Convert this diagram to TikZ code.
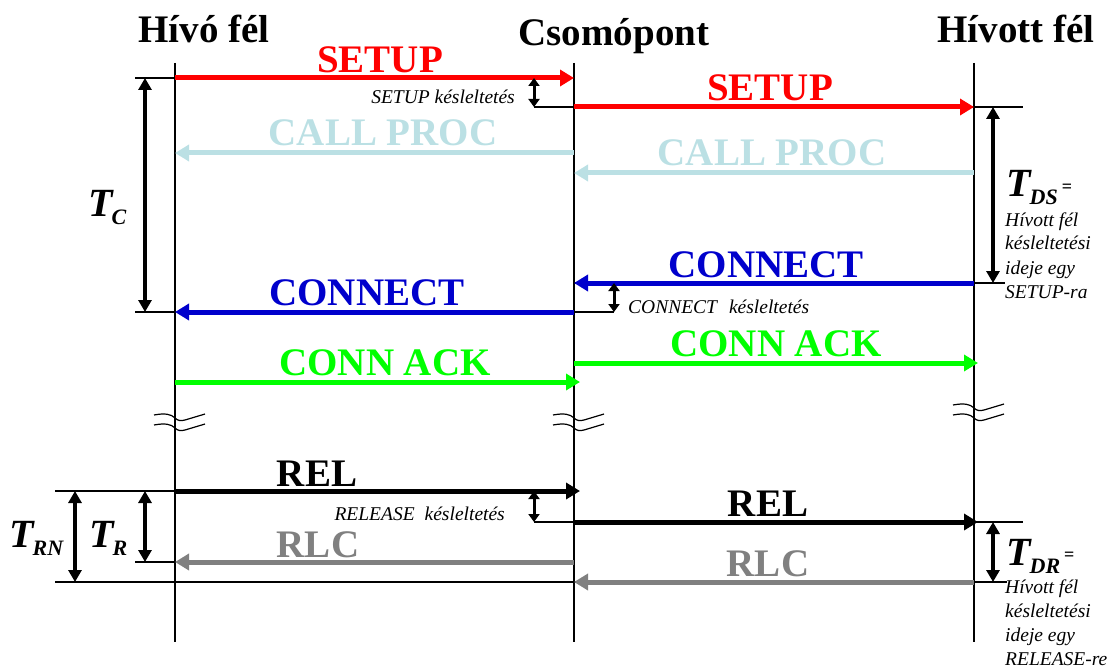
\documentclass[tikz,border=0pt]{standalone}
\usepackage{fontspec}
\setmainfont{Liberation Serif}
\usetikzlibrary{arrows.meta}

\definecolor{msgred}{RGB}{255,0,0}
\definecolor{msgcyan}{RGB}{187,224,228}
\definecolor{msgblue}{RGB}{0,0,204}
\definecolor{msggreen}{RGB}{0,255,0}
\definecolor{msggrey}{RGB}{128,128,128}

% time interval label: bold italic T with a lowered subscript
\newcommand\Tsub[1]{{\fontsize{40}{40}\selectfont\bfseries\itshape T}\kern-1pt\raisebox{-8pt}{\fontsize{22}{22}\selectfont\bfseries\itshape #1}}

\tikzset{
  head/.style={font=\fontsize{39}{39}\selectfont\bfseries, inner sep=0pt, anchor=base},
  msglabel/.style={font=\fontsize{39}{39}\selectfont\bfseries, inner sep=0pt, anchor=base},
  msg/.style={line width=5pt, -{Triangle[length=14pt,width=16pt]}},
  lifeline/.style={line width=1.3pt},
  tick/.style={line width=1.3pt},
  span/.style={line width=3.5pt, {Triangle[length=12pt,width=13pt]}-{Triangle[length=12pt,width=13pt]}},
  delay/.style={line width=3pt, {Triangle[length=8pt,width=11pt]}-{Triangle[length=8pt,width=11pt]}},
  note/.style={font=\fontsize{19.5}{19.5}\selectfont\itshape, inner sep=0pt},
  sidenote/.style={font=\fontsize{19.5}{19.5}\selectfont\itshape, inner sep=0pt, anchor=base west},
  tlabel/.style={inner sep=0pt, anchor=base west},
  brk/.style={line width=1.2pt},
  brkmark/.pic={
    \draw[brk] (-21,0) .. controls (-10,-2) and (-4,-1) .. (0,3) .. controls (3,6) and (6,6) .. (10,5) -- (30,-1);
    \draw[brk] (-21,10) .. controls (-10,8) and (-4,9) .. (0,13) .. controls (3,16) and (6,16) .. (10,15) -- (30,9);
  },
}

\begin{document}
\begin{tikzpicture}[x=1pt,y=-1pt]
\useasboundingbox (0,0) rectangle (1115,668);

% ---- parties ----
\node[head] (hA) at (204,43) {Hívó fél};
\node[head] (hB) at (614,46) {Csomópont};
\node[head] (hC) at (1016,43) {Hívott fél};

\coordinate (A0) at (175,63);  \coordinate (A1) at (175,642);
\coordinate (B0) at (574,63);  \coordinate (B1) at (574,642);
\coordinate (C0) at (974,63);  \coordinate (C1) at (974,642);
\draw[lifeline] (A0) -- (A1);
\draw[lifeline] (B0) -- (B1);
\draw[lifeline] (C0) -- (C1);

% ---- breaks in the time axis ----
\pic at (175,415) {brkmark};
\pic at (574,415) {brkmark};
\pic at (974,405) {brkmark};

% ---- message end points ----
\coordinate (suA) at (175,78);  \coordinate (suB) at (574,78);
\coordinate (sdB) at (574,107); \coordinate (sdC) at (974,107);
\coordinate (pB) at (574,153);  \coordinate (pA) at (175,153);
\coordinate (pC) at (974,173);  \coordinate (pB2) at (574,173);
\coordinate (cC) at (974,283);  \coordinate (cB) at (574,283);
\coordinate (cB2) at (574,312); \coordinate (cA) at (175,312);
\coordinate (kA) at (175,382);  \coordinate (kB) at (580,382);
\coordinate (kB2) at (574,363); \coordinate (kC) at (978,363);
\coordinate (rA) at (175,491);  \coordinate (rB) at (580,491);
\coordinate (rB2) at (574,522); \coordinate (rC) at (978,522);
\coordinate (lB) at (574,562);  \coordinate (lA) at (175,562);
\coordinate (lC) at (974,582);  \coordinate (lB2) at (574,582);

% ---- reference ticks ----
\coordinate (tc1) at (135,78);  \coordinate (tc2) at (135,312);
\coordinate (tds1) at (1023,107); \coordinate (tds2) at (1005,283);
\coordinate (tdr1) at (1023,522); \coordinate (tdr2) at (1007,582);
\coordinate (trn1) at (55,491); \coordinate (trn2) at (55,582);
\coordinate (tr2) at (135,562);
\coordinate (d1) at (534,107); \coordinate (d2) at (614,312); \coordinate (d3) at (534,522);

\draw[tick] (tc1) -- (suA);
\draw[tick] (tc2) -- (cA);
\draw[tick] (sdB) -- (tds1);
\draw[tick] (cB) -- (tds2);
\draw[tick] (rB2) -- (tdr1);
\draw[tick] (lB2) -- (tdr2);
\draw[tick] (trn1) -- (rA);
\draw[tick] (trn2) -- (lB2);
\draw[tick] (tr2) -- (lA);
\draw[tick] (d1) -- (sdB);
\draw[tick] (cB2) -- (d2);
\draw[tick] (d3) -- (rB2);

% ---- messages ----
\draw[msg, msgred] (suA) -- (suB);
\draw[msg, msgred] (sdB) -- (sdC);
\draw[msg, msgcyan] (pB) -- (pA);
\draw[msg, msgcyan] (pC) -- (pB2);
\draw[msg, msgblue] (cC) -- (cB);
\draw[msg, msgblue] (cB2) -- (cA);
\draw[msg, msggreen] (kA) -- (kB);
\draw[msg, msggreen] (kB2) -- (kC);
\draw[msg, black] (rA) -- (rB);
\draw[msg, black] (rB2) -- (rC);
\draw[msg, msggrey] (lB) -- (lA);
\draw[msg, msggrey] (lC) -- (lB2);

\node[msglabel, msgred] (m1) at (380,73) {SETUP};
\node[msglabel, msgred] (m2) at (770,101) {SETUP};
\node[msglabel, msgcyan] (m3) at (383,146) {CALL PROC};
\node[msglabel, msgcyan] (m4) at (772,166) {CALL PROC};
\node[msglabel, msgblue] (m5) at (766,277) {CONNECT};
\node[msglabel, msgblue] (m6) at (367,305) {CONNECT};
\node[msglabel, msggreen] (m7) at (385,375) {CONN ACK};
\node[msglabel, msggreen] (m8) at (776,356) {CONN ACK};
\node[msglabel, black] (m9) at (317,486) {REL};
\node[msglabel, black] (m10) at (768,516) {REL};
\node[msglabel, msggrey] (m11) at (318,557) {RLC};
\node[msglabel, msggrey] (m12) at (768,576) {RLC};

% ---- node delays ----
\coordinate (dl1a) at (534,78);  \coordinate (dl1b) at (534,107);
\coordinate (dl2a) at (614,283); \coordinate (dl2b) at (614,312);
\coordinate (dl3a) at (534,491); \coordinate (dl3b) at (534,522);
\draw[delay] (dl1a) -- (dl1b);
\draw[delay] (dl2a) -- (dl2b);
\draw[delay] (dl3a) -- (dl3b);
\node[note, anchor=base east] (n1) at (515,104) {SETUP késleltetés};
\node[note, anchor=base west] (n2) at (628,313) {CONNECT\hspace{12pt}késleltetés};
\node[note, anchor=base east] (n3) at (505,520) {RELEASE\hspace{10pt}késleltetés};

% ---- measured intervals ----
\coordinate (sC1) at (145,78);  \coordinate (sC2) at (145,312);
\coordinate (sDS1) at (993,107); \coordinate (sDS2) at (993,283);
\coordinate (sDR1) at (993,522); \coordinate (sDR2) at (993,582);
\coordinate (sRN1) at (75,491); \coordinate (sRN2) at (75,582);
\coordinate (sR1) at (145,491); \coordinate (sR2) at (145,562);
\draw[span] (sC1) -- (sC2);
\draw[span] (sDS1) -- (sDS2);
\draw[span] (sDR1) -- (sDR2);
\draw[span] (sRN1) -- (sRN2);
\draw[span] (sR1) -- (sR2);

\node[tlabel] (tC) at (88,217) {\Tsub{C}};
\node[tlabel] (tRN) at (9,547) {\Tsub{RN}};
\node[tlabel] (tR) at (89,547) {\Tsub{R}};
\node[tlabel] (tDS) at (1006,197) {\Tsub{DS}\hspace{4pt}\raisebox{5pt}{\fontsize{18}{18}\selectfont\bfseries =}};
\node[tlabel] (tDR) at (1006,565) {\Tsub{DR}\hspace{4pt}\raisebox{5pt}{\fontsize{18}{18}\selectfont\bfseries =}};

\foreach \t [count=\i] in {Hívott fél, késleltetési, ideje egy, SETUP-ra}
  \node[sidenote] (ds\i) at (1005,202+24*\i) {\t};
\foreach \t [count=\i] in {Hívott fél, késleltetési, ideje egy, RELEASE-re}
  \node[sidenote] (dr\i) at (1005,569+24*\i) {\t};
\end{tikzpicture}
\end{document}
